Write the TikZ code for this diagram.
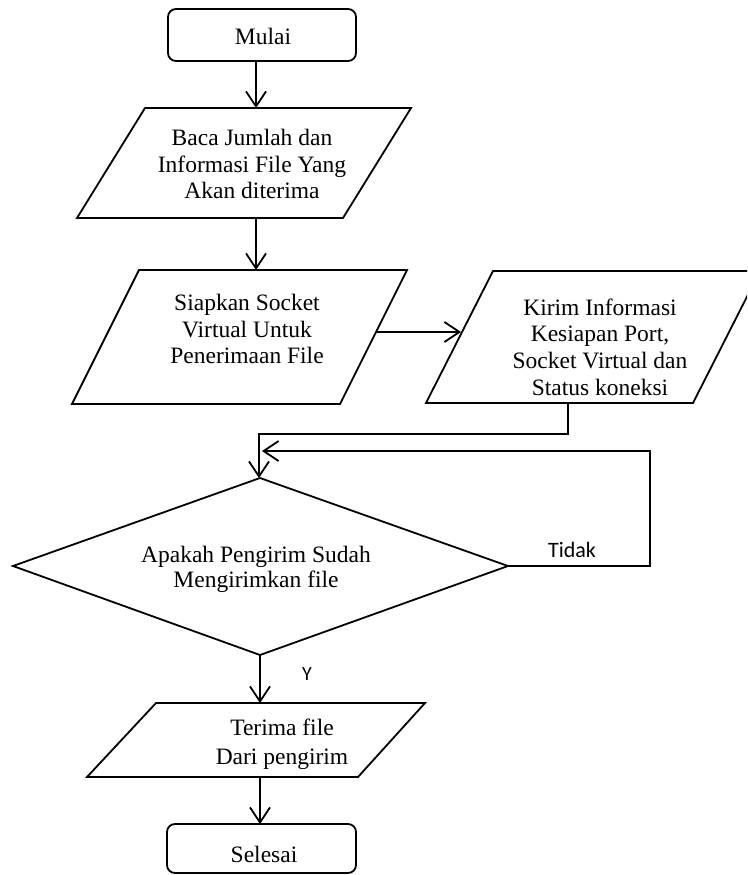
\documentclass[tikz,border=0pt]{standalone}
\usepackage{fontspec}
\setmainfont{Liberation Serif}
\newfontfamily\calib{Carlito}
\usetikzlibrary{arrows.meta}
\begin{document}
\begin{tikzpicture}[x=1pt,y=-1pt,line width=1.8pt,line join=miter,
  every node/.style={font=\fontsize{23.5}{26.7}\selectfont,inner sep=0pt,align=center},
  conn/.style={-{Straight Barb[length=15pt,width=20pt]}},
  lbl/.style={font=\calib\fontsize{22}{26}\selectfont},
  boxline/.style={draw,line width=1.8pt}]
\useasboundingbox (0,0) rectangle (747,875);
\clip (0,0) rectangle (747,875);

% ---- shapes
\draw[boxline,rounded corners=8pt] (168,9) rectangle (356,61);
\node[anchor=base] (mulai) at (263,45) {Mulai};

\draw[boxline] (145,108) -- (411,108) -- (343,218) -- (77,218) -- cycle;
\node (baca) at (252,164) {Baca Jumlah dan\\Informasi File Yang\\Akan diterima};

\draw[boxline] (139,270) -- (407,270) -- (340,404) -- (72,404) -- cycle;
\node (siap) at (247,329) {Siapkan Socket\\Virtual Untuk\\Penerimaan File};

\draw[boxline] (493,271) -- (760,271) -- (693,403) -- (426,403) -- cycle;
\node (kirim) at (600,347) {Kirim Informasi\\Kesiapan Port,\\Socket Virtual dan\\Status koneksi};

\draw[boxline] (260,478) -- (508,566) -- (260,655) -- (13,566) -- cycle;
\node[font=\fontsize{23.5}{25}\selectfont] (tanya) at (256,569) {Apakah Pengirim Sudah\\Mengirimkan file};

\draw[boxline] (156,703) -- (425,703) -- (358,777) -- (87,777) -- cycle;
\node[font=\fontsize{23.5}{29}\selectfont] (terima) at (282,744) {Terima file\\Dari pengirim};

\draw[boxline,rounded corners=8pt] (167,824) rectangle (356,873);
\node[anchor=base] (selesai) at (264,862) {Selesai};

% ---- anchor points on the shapes
\coordinate (mulaiS) at (256,61);
\coordinate (bacaN) at (256,108);
\coordinate (bacaS) at (256,218);
\coordinate (siapN) at (256,270);
\coordinate (siapE) at (377,332);
\coordinate (kirimW) at (461,332);
\coordinate (kirimS) at (568,403);
\coordinate (tanyaN) at (259,478);
\coordinate (tanyaE) at (508,566);
\coordinate (tanyaS) at (260,655);
\coordinate (terimaN) at (260,703);
\coordinate (terimaS) at (260,777);
\coordinate (selesaiN) at (260,824);
\coordinate (loopIn) at (262,451);

% ---- connectors
\draw[conn] (mulaiS) -- (bacaN);
\draw[conn] (bacaS) -- (siapN);
\draw[conn] (siapE) -- (kirimW);
\draw[conn] (kirimS) -- (568,434) -- (259,434) -- (tanyaN);
\draw[conn] (tanyaE) -- (650,566) -- (650,451) -- (loopIn);
\draw[conn] (tanyaS) -- (terimaN);
\draw[conn] (terimaS) -- (selesaiN);

% ---- labels
\node[lbl,anchor=base] (tidak) at (572,557) {Tidak};
\node[font=\calib\fontsize{20}{24}\selectfont,anchor=base] (ya) at (307,680) {Y};
\end{tikzpicture}
\end{document}
